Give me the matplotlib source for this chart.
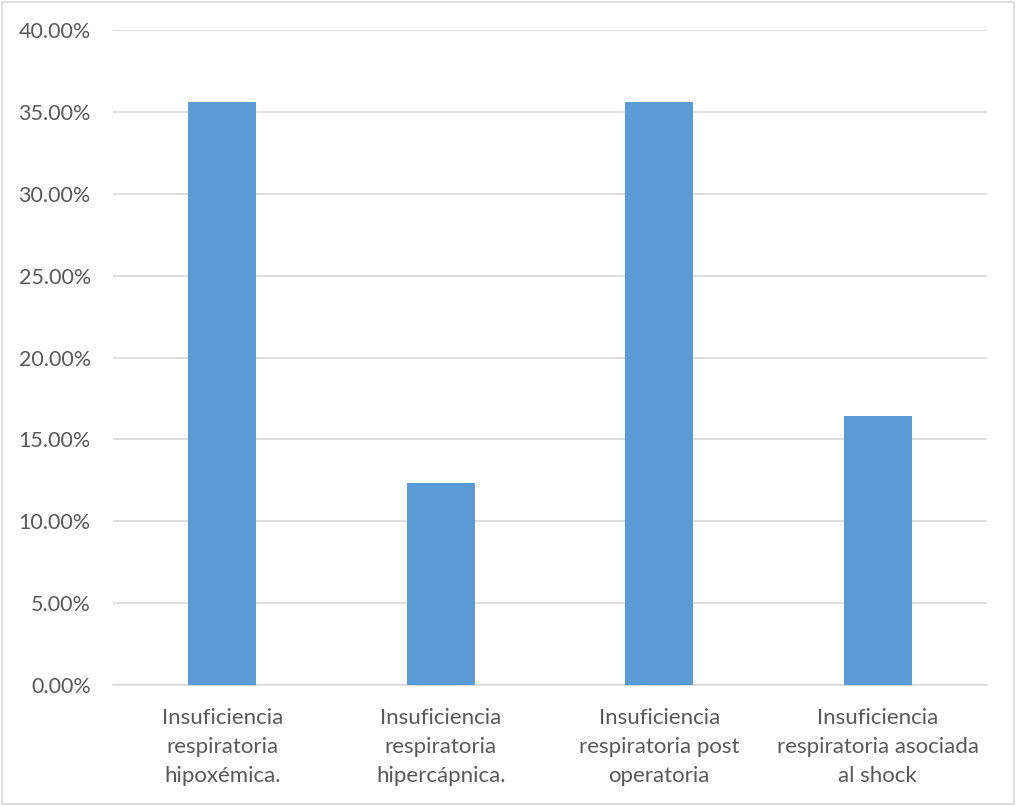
import matplotlib
matplotlib.use("Agg")
import matplotlib.pyplot as plt
from matplotlib.ticker import FuncFormatter, MultipleLocator

categories = ["Insuficiencia\nrespiratoria\nhipoxémica.",
              "Insuficiencia\nrespiratoria\nhipercápnica.",
              "Insuficiencia\nrespiratoria post\noperatoria",
              "Insuficiencia\nrespiratoria asociada\nal shock"]
values = [35.62, 12.33, 35.62, 16.44]

plt.rcParams['font.family'] = ['Lato', 'DejaVu Sans']

fig = plt.figure(figsize=(10.16, 8.06), dpi=100)
ax = fig.add_axes([113/1016, 1-685/806, (987-113)/1016, (685-30)/806])

x = list(range(len(categories)))
ax.bar(x, values, width=0.31, color="#5b9bd5", zorder=3)
ax.set_xlim(-0.5, len(categories)-0.5)
ax.set_ylim(0, 40)
ax.yaxis.set_major_locator(MultipleLocator(5))
ax.yaxis.set_major_formatter(FuncFormatter(lambda v, p: f"{v:.2f}%"))
ax.grid(axis='y', color="#d9d9d9", linewidth=1.2, zorder=0)
for s in ['top', 'right', 'left']:
    ax.spines[s].set_visible(False)
ax.spines['bottom'].set_color("#d9d9d9")
ax.spines['bottom'].set_linewidth(1.2)
ax.set_xticks(x)
ax.set_xticklabels(categories, linespacing=1.55)
ax.tick_params(axis='y', length=0, labelsize=15.5, colors="#595959", pad=16)
ax.tick_params(axis='x', length=0, labelsize=16, colors="#595959", pad=16.5)

border = plt.Rectangle((2/1016, 2/806), 1-4/1016, 1-4/806, transform=fig.transFigure,
                       fill=False, edgecolor="#d9d9d9", linewidth=1.2)
fig.patches.append(border)

fig.savefig("out.png", dpi=100, facecolor="white")
